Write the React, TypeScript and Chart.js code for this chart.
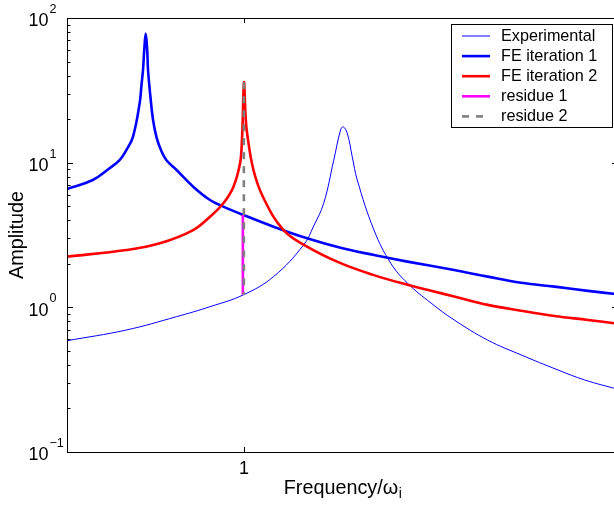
import React, { useEffect, useRef } from "react";
import { Chart, registerables } from "chart.js";

Chart.register(...registerables);

// ---------- data ----------
const expFreq = [0.64, 0.7606, 0.8627, 0.9306, 0.9986, 1.0598, 1.121, 1.1414, 1.1618, 1.1822, 1.196, 1.2014, 1.2096, 1.2198, 1.23, 1.264, 1.298, 1.332, 1.38, 1.427, 1.495, 1.563, 1.638, 1.692, 1.76];
const expAmp = [0.588, 0.697, 0.862, 1.01, 1.22, 1.63, 2.7, 3.65, 5.24, 10.4, 16.8, 17.7, 16.0, 11.0, 7.59, 3.42, 2.02, 1.47, 1.07, 0.818, 0.594, 0.469, 0.369, 0.315, 0.271];

const fe1Freq = [0.64, 0.6924, 0.7265, 0.7469, 0.7606, 0.7741, 0.7878, 0.7914, 0.7945, 0.797, 0.8, 0.803, 0.8047, 0.8092, 0.8149, 0.8224, 0.8327, 0.8422, 0.8627, 0.8965, 0.9306, 0.9578, 0.9986, 1.0598, 1.128, 1.196, 1.264, 1.332, 1.427, 1.495, 1.563, 1.631, 1.699, 1.76];
const fe1Amp = [6.58, 7.59, 9.15, 10.4, 12.2, 15.1, 25.9, 34.4, 43.7, 60, 78, 60, 43.7, 29.4, 19.7, 14.8, 11.85, 10.4, 8.9, 6.82, 5.52, 4.97, 4.35, 3.61, 3.0, 2.58, 2.3, 2.07, 1.81, 1.63, 1.48, 1.39, 1.3, 1.23];

const fe2Freq = [0.64, 0.7606, 0.8286, 0.8965, 0.9306, 0.9578, 0.9782, 0.9918, 0.9953, 0.9972, 0.9986, 1.0, 1.0014, 1.003, 1.0055, 1.019, 1.0394, 1.0802, 1.128, 1.196, 1.264, 1.332, 1.38, 1.427, 1.495, 1.563, 1.631, 1.699, 1.76];
const fe2Amp = [2.24, 2.49, 2.77, 3.42, 4.23, 5.24, 6.8, 9.9, 13.6, 20, 30.2, 36, 28, 21, 16.5, 8.9, 5.7, 3.42, 2.63, 2.02, 1.67, 1.43, 1.3, 1.19, 1.04, 0.948, 0.871, 0.818, 0.77];

const res1Freq = [0.9975, 0.9975];
const res1Amp = [4.35, 1.22];
const res2Freq = [0.9995, 0.9995];
const res2Amp = [36, 1.22];

const seriesLabels = ["Experimental", "FE iteration 1", "FE iteration 2", "residue 1", "residue 2"];

const xLimits = [0.64, 1.76];
const yLimits = [0.1, 100];
const xTickValues = [1];
const xTickLabels = ["1"];
const yMajorTicks = [0.1, 1, 10, 100];
const yTickExponents = ["\u22121", "0", "1", "2"];

const FONT = '"Liberation Sans", Arial, Helvetica, sans-serif';

function pts(xs: number[], ys: number[]) {
  return xs.map((x, i) => ({ x, y: ys[i] }));
}

const axesPlugin = {
  id: "matlabAxes",
  afterDraw(chart: any) {
    const { ctx, chartArea: a } = chart;
    const xs = chart.scales.x;
    const ys = chart.scales.y;
    ctx.save();
    ctx.strokeStyle = "#000";
    ctx.fillStyle = "#000";
    ctx.lineWidth = 1;
    // box
    ctx.strokeRect(a.left + 0.5, a.top + 0.5, a.right - a.left, a.bottom - a.top);

    // y ticks (major + minor)
    const minor: number[] = [];
    for (let d = 0; d < yMajorTicks.length - 1; d++) {
      for (let k = 2; k <= 9; k++) minor.push(yMajorTicks[d] * k);
    }
    ctx.beginPath();
    yMajorTicks.forEach((v) => {
      const py = Math.round(ys.getPixelForValue(v)) + 0.5;
      ctx.moveTo(a.left, py); ctx.lineTo(a.left + 6, py);
      ctx.moveTo(a.right, py); ctx.lineTo(a.right - 6, py);
    });
    minor.forEach((v) => {
      const py = Math.round(ys.getPixelForValue(v)) + 0.5;
      ctx.moveTo(a.left, py); ctx.lineTo(a.left + 3.5, py);
      ctx.moveTo(a.right, py); ctx.lineTo(a.right - 3.5, py);
    });
    xTickValues.forEach((v) => {
      const px = Math.round(xs.getPixelForValue(v)) + 0.5;
      ctx.moveTo(px, a.bottom); ctx.lineTo(px, a.bottom - 5);
      ctx.moveTo(px, a.top); ctx.lineTo(px, a.top + 5);
    });
    ctx.stroke();

    // y tick labels 10^n
    yMajorTicks.forEach((v, i) => {
      const py = ys.getPixelForValue(v);
      ctx.font = `18px ${FONT}`;
      ctx.textAlign = "right";
      ctx.textBaseline = "alphabetic";
      ctx.fillText("10", a.left - 18.5, py + 8.3);
      ctx.font = `12.6px ${FONT}`;
      ctx.textAlign = "left";
      ctx.fillText(yTickExponents[i], a.left - 17.5, py - 5);
    });

    // x tick labels
    ctx.font = `18px ${FONT}`;
    ctx.textAlign = "center";
    xTickValues.forEach((v, i) => {
      const px = xs.getPixelForValue(v);
      ctx.fillText(xTickLabels[i], px, a.bottom + 22);
    });

    // x title with subscript
    const main = "Frequency/\u03c9";
    ctx.font = `19.8px ${FONT}`;
    const w1 = ctx.measureText(main).width;
    ctx.font = `13.9px ${FONT}`;
    const w2 = ctx.measureText("i").width;
    const cx = (a.left + a.right) / 2;
    const sx = cx - (w1 + w2) / 2;
    ctx.textAlign = "left";
    ctx.font = `19.8px ${FONT}`;
    ctx.fillText(main, sx, a.bottom + 42);
    ctx.font = `13.9px ${FONT}`;
    ctx.fillText("i", sx + w1 + 0.5, a.bottom + 46);

    // y title
    ctx.save();
    ctx.translate(22.5, (a.top + a.bottom) / 2);
    ctx.rotate(-Math.PI / 2);
    ctx.font = `19.8px ${FONT}`;
    ctx.textAlign = "center";
    ctx.textBaseline = "alphabetic";
    ctx.fillText("Amplitude", 0, 0);
    ctx.restore();

    // legend
    const lx0 = a.right - 167;
    const ly0 = a.top + 6;
    const lw = 161;
    const lh = 103;
    ctx.fillStyle = "#fff";
    ctx.fillRect(lx0, ly0, lw, lh);
    ctx.strokeStyle = "#000";
    ctx.lineWidth = 1;
    ctx.strokeRect(lx0 + 0.5, ly0 + 0.5, lw, lh);
    chart.data.datasets.forEach((ds: any, i: number) => {
      const ry = ly0 + 12 + i * 20.1;
      ctx.save();
      ctx.strokeStyle = ds.borderColor;
      ctx.lineWidth = ds.borderWidth;
      ctx.setLineDash(ds.borderDash || []);
      ctx.beginPath();
      ctx.moveTo(lx0 + 11, ry);
      ctx.lineTo(lx0 + 39, ry);
      ctx.stroke();
      ctx.restore();
      ctx.fillStyle = "#000";
      ctx.font = `16.2px ${FONT}`;
      ctx.textAlign = "left";
      ctx.textBaseline = "middle";
      ctx.fillText(ds.label, lx0 + 50, ry + 0.5);
    });
    ctx.restore();
  },
};

export default function App() {
  const ref = useRef<HTMLCanvasElement>(null);
  useEffect(() => {
    if (!ref.current) return;
    const chart = new Chart(ref.current, {
      type: "line",
      data: {
        datasets: [
          { label: seriesLabels[0], data: pts(expFreq, expAmp), borderColor: "#0000ff", borderWidth: 1, order: 5 },
          { label: seriesLabels[1], data: pts(fe1Freq, fe1Amp), borderColor: "#0000ff", borderWidth: 2.6, order: 4 },
          { label: seriesLabels[2], data: pts(fe2Freq, fe2Amp), borderColor: "#ff0000", borderWidth: 2.6, order: 3 },
          { label: seriesLabels[3], data: pts(res1Freq, res1Amp), borderColor: "#ff00ff", borderWidth: 2.6, order: 2, tension: 0 },
          { label: seriesLabels[4], data: pts(res2Freq, res2Amp), borderColor: "#808080", borderWidth: 2.6, borderDash: [7, 7], order: 1, tension: 0 },
        ] as any,
      },
      options: {
        animation: false,
        responsive: false,
        devicePixelRatio: 1,
        layout: { padding: { left: 67, top: 18, right: 4, bottom: 54 } },
        elements: {
          point: { radius: 0, hoverRadius: 0 },
          line: { tension: 0.4, cubicInterpolationMode: "default", fill: false },
        },
        plugins: { legend: { display: false }, tooltip: { enabled: false } },
        events: [],
        scales: {
          x: { type: "linear", min: xLimits[0], max: xLimits[1], display: false },
          y: { type: "logarithmic", min: yLimits[0], max: yLimits[1], display: false },
        },
      } as any,
      plugins: [axesPlugin],
    });
    return () => chart.destroy();
  }, []);
  return (
    <div style={{ position: "absolute", left: 0, top: 0, width: 614, height: 506, overflow: "hidden", background: "#fff" }}>
      <canvas ref={ref} width={622} height={506} style={{ display: "block", width: 622, height: 506 }} />
    </div>
  );
}
